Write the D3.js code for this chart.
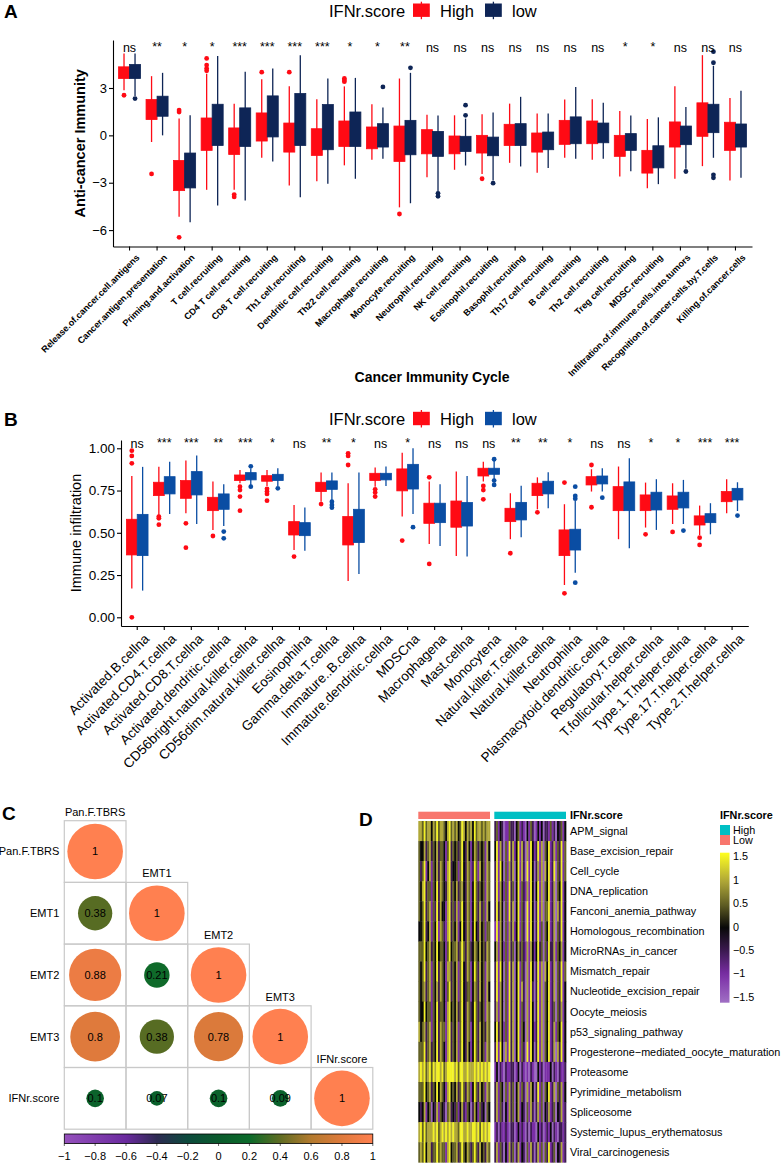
<!DOCTYPE html>
<html>
<head>
<meta charset="utf-8">
<script src="https://cdn.jsdelivr.net/npm/d3@7"></script>
<style>
  body { margin: 0; background: white; }
  svg { display: block; font-family: "Liberation Sans", Arial, sans-serif; }
</style>
</head>
<body>
<svg id="chart"></svg>
<script>
// ---------- Panel A: cancer immunity cycle ----------
const cycleSteps = [
    "Release.of.cancer.cell.antigens", "Cancer.antigen.presentation", "Priming.and.activation",
    "T cell.recruiting", "CD4 T cell.recruiting", "CD8 T cell.recruiting", "Th1 cell.recruiting",
    "Dendritic cell.recruiting", "Th22 cell.recruiting", "Macrophage.recruiting", "Monocyte.recruiting",
    "Neutrophil.recruiting", "NK cell.recruiting", "Eosinophil.recruiting", "Basophil.recruiting",
    "Th17 cell.recruiting", "B cell.recruiting", "Th2 cell.recruiting", "Treg cell.recruiting",
    "MDSC.recruiting", "Infiltration.of.immune.cells.into.tumors", "Recognition.of.cancer.cells.by.T.cells",
    "Killing.of.cancer.cells"
];
const cycleSig = ["ns", "**", "*", "*", "***", "***", "***", "***", "*", "*", "**", "ns", "ns", "ns", "ns",
    "ns", "ns", "ns", "*", "*", "ns", "ns", "ns"];
// [lower whisker, q1, q3, upper whisker]
const cycleHigh = [
    [2.86, 3.6, 4.34, 5.19], [-0.42, 1.0, 2.27, 3.75], [-5.15, -3.5, -1.59, 1.06], [-3.45, -0.95, 1.1, 3.9],
    [-3.45, -1.21, 0.47, 2.0], [-1.42, -0.36, 1.42, 3.56], [-3.18, -1.06, 0.78, 3.11], [-2.9, -1.27, 0.42, 2.29],
    [-1.9, -0.7, 0.91, 3.1], [-1.55, -0.85, 0.53, 1.97], [-4.56, -1.65, 0.59, 3.6], [-2.65, -1.17, 0.36, 1.31],
    [-2.18, -1.17, -0.04, 1.27], [-2.44, -1.12, 0, 1.33], [-1.74, -0.64, 0.7, 2.01], [-2.37, -1.06, 0.15, 1.38],
    [-1.42, -0.57, 0.95, 2.27], [-1.55, -0.53, 0.91, 2.29], [-2.6, -1.33, 0, 1.55], [-3.35, -2.39, -0.95, 1.04],
    [-2.75, -0.74, 0.85, 3.11], [-1.95, -0.06, 2.06, 5.08], [-2.86, -0.95, 0.83, 2.37]
];
const cycleLow = [
    [2.5, 3.6, 4.49, 5.19], [0, 1.21, 2.48, 3.96], [-5.5, -3.33, -1.12, 1.27], [-4.45, -0.64, 1.97, 5.02],
    [-4.13, -0.7, 1.74, 4.03], [-1.65, -0.1, 2.5, 4.24], [-3.92, -0.64, 2.65, 5.08], [-3.07, -0.91, 1.95, 3.6],
    [-2.75, -0.7, 1.48, 3.64], [-1.48, -0.74, 0.74, 1.76], [-4.3, -1.23, 0.95, 3.96], [-3.55, -1.33, 0.25, 1.25],
    [-1.91, -1.02, -0.06, 1.06], [-2.86, -1.29, -0.11, 1.44], [-1.97, -0.64, 0.74, 2.44], [-2.06, -0.91, 0.21, 1.38],
    [-1.48, -0.53, 1.17, 3.07], [-1.48, -0.47, 0.78, 2.06], [-2.27, -0.95, 0.11, 1.25], [-3.09, -2.06, -0.66, 1.14],
    [-2.12, -0.59, 0.59, 1.8], [-1.42, 0.17, 1.97, 4.4], [-2.69, -0.74, 0.72, 2.82]
];
const cycleHighOut = [[2.54], [-2.44], [1.48, 1.6, -6.46], [4.09, 4.24, 4.45, 4.87], [-3.75, -3.9], [4.0], [4.0], [],
    [3.4, 3.5, 3.6], [], [-4.98], [], [], [-2.75], [], [], [], [], [], [], [], [], []];
const cycleLowOut = [[2.33], [], [], [], [], [], [], [], [], [3.07], [4.28], [-3.67, -3.86], [1.27, 1.91], [-3.03],
    [], [], [], [], [], [], [-2.29], [4.6, 5.3, -2.5, -2.69], []];
const cycleTicks = [-6, -3, 0, 3];

// ---------- Panel B: immune infiltration ----------
const cellTypes = [
    "Activated.B.cellna", "Activated.CD4.T.cellna", "Activated.CD8.T.cellna", "Activated.dendritic.cellna",
    "CD56bright.natural.killer.cellna", "CD56dim.natural.killer.cellna", "Eosinophilna", "Gamma.delta.T.cellna",
    "Immature..B.cellna", "Immature.dendritic.cellna", "MDSCna", "Macrophagena", "Mast.cellna", "Monocytena",
    "Natural.killer.T.cellna", "Natural.killer.cellna", "Neutrophilna", "Plasmacytoid.dendritic.cellna",
    "Regulatory.T.cellna", "T.follicular.helper.cellna", "Type.1.T.helper.cellna", "Type.17.T.helper.cellna",
    "Type.2.T.helper.cellna"
];
const cellSig = ["ns", "***", "***", "**", "***", "*", "ns", "**", "*", "ns", "*", "ns", "ns", "ns", "**", "**",
    "*", "ns", "ns", "*", "*", "***", "***"];
const cellHigh = [
    [0.17, 0.369, 0.58, 0.836], [0.605, 0.72, 0.799, 0.89], [0.615, 0.704, 0.809, 0.927], [0.517, 0.631, 0.71, 0.803],
    [0.793, 0.809, 0.842, 0.872], [0.777, 0.805, 0.838, 0.872], [0.398, 0.487, 0.566, 0.665], [0.684, 0.744, 0.799, 0.856],
    [0.215, 0.428, 0.596, 0.793], [0.773, 0.809, 0.852, 0.886], [0.596, 0.748, 0.878, 0.974], [0.434, 0.556, 0.675, 0.803],
    [0.363, 0.533, 0.688, 0.862], [0.803, 0.836, 0.882, 0.921], [0.462, 0.566, 0.645, 0.734], [0.639, 0.72, 0.793, 0.828],
    [0.191, 0.365, 0.517, 0.669], [0.744, 0.783, 0.832, 0.876], [0.462, 0.631, 0.773, 0.892], [0.531, 0.631, 0.724, 0.797],
    [0.552, 0.639, 0.718, 0.793], [0.487, 0.546, 0.6, 0.661], [0.615, 0.684, 0.744, 0.817]
];
const cellLow = [
    [0.158, 0.365, 0.609, 0.89], [0.611, 0.73, 0.832, 0.92], [0.552, 0.724, 0.862, 0.957], [0.54, 0.639, 0.73, 0.787],
    [0.783, 0.813, 0.856, 0.88], [0.777, 0.809, 0.846, 0.882], [0.394, 0.483, 0.56, 0.649], [0.694, 0.757, 0.807, 0.856],
    [0.256, 0.442, 0.639, 0.856], [0.777, 0.813, 0.852, 0.892], [0.611, 0.759, 0.905, 1.0], [0.422, 0.56, 0.675, 0.787],
    [0.359, 0.54, 0.679, 0.836], [0.813, 0.846, 0.882, 0.925], [0.473, 0.576, 0.68, 0.779], [0.645, 0.73, 0.805, 0.858],
    [0.264, 0.398, 0.521, 0.69], [0.744, 0.789, 0.836, 0.882], [0.408, 0.631, 0.801, 0.941], [0.517, 0.635, 0.74, 0.817],
    [0.552, 0.647, 0.74, 0.813], [0.491, 0.56, 0.613, 0.675], [0.629, 0.694, 0.763, 0.799]
];
const cellHighOut = [[0.986, 0.955, 0.911, 0], [0.596, 0.586, 0.548], [0.556, 0.412], [0.481],
    [0.773, 0.753, 0.714, 0.631], [0.76, 0.745, 0.73, 0.69], [0.359], [0.67], [0.97, 0.955, 0.901],
    [0.757, 0.738, 0.714], [0.454], [0.828, 0.316], [], [0.777, 0.753, 0.698], [0.379], [0.621], [0.797, 0.142],
    [0.901, 0.651], [], [0.491], [0.505], [0.471, 0.428], []];
const cellLowOut = [[], [], [], [0.507, 0.467], [0.893, 0.773], [0.763], [], [0.684, 0.665, 0.649], [], [], [0.533],
    [], [], [0.935, 0.809, 0.783], [], [], [0.773, 0.718, 0.702, 0.205], [0.708], [], [], [0.513], [], [0.602]];
const cellTicks = [0, 0.25, 0.5, 0.75, 1];

// ---------- Panel C: correlation matrix (lower triangle) ----------
const corrNames = ["Pan.F.TBRS", "EMT1", "EMT2", "EMT3", "IFNr.score"];
const corrRows = [
    [1],
    [0.38, 1],
    [0.88, 0.21, 1],
    [0.8, 0.38, 0.78, 1],
    [0.1, 0.07, 0.1, 0.09, 1]
];
const corrTicks = [-1, -0.8, -0.6, -0.4, -0.2, 0, 0.2, 0.4, 0.6, 0.8, 1];

// ---------- Panel D: heatmap (digit 0..6 = -1.5..1.5 in steps of 0.5) ----------
const pathways = [
    "APM_signal", "Base_excision_repair", "Cell_cycle", "DNA_replication", "Fanconi_anemia_pathway",
    "Homologous_recombination", "MicroRNAs_in_cancer", "Mismatch_repair", "Nucleotide_excision_repair",
    "Oocyte_meiosis", "p53_signaling_pathway", "Progesterone\u2212mediated_oocyte_maturation", "Proteasome",
    "Pyrimidine_metabolism", "Spliceosome", "Systemic_lupus_erythematosus", "Viral_carcinogenesis"
];
const heatLowGroup = [
    "5546455354645543564545346535453645545455",
    "4335245243524431462434246325313542434153",
    "4246135143525431562334146325412641534154",
    "4356244143625432562435245325413642434154",
    "4346245142625331562425146325413642524153",
    "3346235143615421562435136325413632534144",
    "4446345243634431463445246425423543534254",
    "4346245143625431552435146325413642534154",
    "4345245143525431462435146324413542534153",
    "4336344143624431563435246325423642434154",
    "5345245143625441562435146325413642534254",
    "4446245243625431562435146325313642534154",
    "5656456465665645666656466556555656565656",
    "4446345243635431563435246425413642534154",
    "3235134032514320452324135214302531423043",
    "5646455565645656565655466556556656465656",
    "4546355244645441563445246435424642534254"
];
const heatHighGroup = [
    "2413201142203412103142013130221412032413",
    "3615204162513615205163126150436125142614",
    "2616304152503615206163025150536126042614",
    "2615314162403614215163036150436125043613",
    "2625304162503614206163026150446125052613",
    "1615304152513614206163026140436125042613",
    "3515314152403524215153136240426225143513",
    "2616304162503614205163026150536125042614",
    "2615304162503615205162026150436125042613",
    "2515304162503614205163026150436124042513",
    "3625314162503614305163126150436125143613",
    "2616305162503614206163026150436125052613",
    "1302102112201302101021003120111302102112",
    "2514304152403514205153026140436125042513",
    "2514203152403513204152025140325124032512",
    "1202112102201312102021103120121302102212",
    "2514203152402513204152025140426124032512"
];
const heatTicks = [1.5, 1, 0.5, 0, -0.5, -1, -1.5];

const svg = d3.select('#chart').attr('width', 782).attr('height', 1164);

// Boxplot panel shared by A and B
function createBoxPanel(cfg) {
    const x = d3.scaleBand()
                .domain(cfg.cats)
                .range([cfg.left, cfg.right])
                .paddingInner(0)
                .paddingOuter(0.1);
    const y = d3.scaleLinear()
                .domain(cfg.domain)
                .range([cfg.bottom, cfg.top]);
    const boxW = x.step() * 0.4;
    const g = svg.append('g');

    const series = [
        { stats: cfg.high, out: cfg.highOut, color: cfg.colors[0], shift: -boxW / 2 },
        { stats: cfg.low, out: cfg.lowOut, color: cfg.colors[1], shift: boxW / 2 }
    ];

    series.forEach(s => {
        const cx = i => x(cfg.cats[i]) + x.bandwidth() / 2 + s.shift;

        g.append('g').selectAll('line')
         .data(s.stats)
         .enter()
         .append('line')
         .attr('x1', (d, i) => cx(i))
         .attr('x2', (d, i) => cx(i))
         .attr('y1', d => y(d[0]))
         .attr('y2', d => y(d[3]))
         .attr('stroke', s.color)
         .attr('stroke-width', 1.3);

        g.append('g').selectAll('rect')
         .data(s.stats)
         .enter()
         .append('rect')
         .attr('x', (d, i) => cx(i) - boxW / 2)
         .attr('y', d => y(d[2]))
         .attr('width', boxW)
         .attr('height', d => y(d[1]) - y(d[2]))
         .attr('fill', s.color)
         .attr('stroke', s.color)
         .attr('stroke-width', 0.8);

        const pts = [];
        s.out.forEach((vals, i) => vals.forEach(v => pts.push({ i: i, v: v })));
        g.append('g').selectAll('circle')
         .data(pts)
         .enter()
         .append('circle')
         .attr('cx', d => cx(d.i))
         .attr('cy', d => y(d.v))
         .attr('r', 2.4)
         .attr('fill', s.color);
    });

    // significance labels
    g.append('g').selectAll('text')
     .data(cfg.sig)
     .enter()
     .append('text')
     .attr('x', (d, i) => x(cfg.cats[i]) + x.bandwidth() / 2)
     .attr('y', d => d === 'ns' ? cfg.sigY : cfg.sigY - 1)
     .attr('text-anchor', 'middle')
     .style('font-size', '12.5px')
     .text(d => d);

    // Y axis
    const yAxis = g.append('g')
                   .attr('transform', `translate(${cfg.left},0)`)
                   .call(d3.axisLeft(y).tickValues(cfg.ticks).tickSize(4).tickSizeOuter(0).tickFormat(cfg.tickFormat));
    yAxis.selectAll('text').style('font-size', cfg.tickFont).style('fill', 'black').attr('x', -6);
    yAxis.selectAll('line, path').attr('stroke', 'black').attr('stroke-width', 1.1);

    // X axis
    const xAxis = g.append('g')
                   .attr('transform', `translate(0,${cfg.bottom})`)
                   .call(d3.axisBottom(x).tickSize(4).tickSizeOuter(0).tickFormat(''));
    xAxis.selectAll('line, path').attr('stroke', 'black').attr('stroke-width', 1.1);

    g.append('g').selectAll('text')
     .data(cfg.cats)
     .enter()
     .append('text')
     .attr('transform', d => `translate(${x(d) + x.bandwidth() / 2 + cfg.labelDx},${cfg.bottom + cfg.labelDy}) rotate(-45)`)
     .attr('text-anchor', 'end')
     .attr('dy', '0.71em')
     .style('font-size', cfg.labelFont)
     .style('font-weight', cfg.labelWeight)
     .text(d => d);

    // Y axis title
    g.append('text')
     .attr('transform', `translate(${cfg.yTitleX},${(cfg.top + cfg.bottom) / 2}) rotate(-90)`)
     .attr('text-anchor', 'middle')
     .style('font-size', '14.5px')
     .style('font-weight', cfg.yTitleWeight)
     .text(cfg.yTitle);

    // legend
    const lg = g.append('g').attr('transform', `translate(0,${cfg.legendY})`);
    lg.append('text').attr('x', 329).attr('y', 0).style('font-size', '16.5px').text('IFNr.score');
    [['High', 413], ['low', 485]].forEach(([name, kx], k) => {
        lg.append('line')
          .attr('x1', kx + 8.4).attr('x2', kx + 8.4)
          .attr('y1', -15).attr('y2', 2.5)
          .attr('stroke', cfg.colors[k]).attr('stroke-width', 1.3);
        lg.append('rect')
          .attr('x', kx).attr('y', -13.2)
          .attr('width', 16.8).attr('height', 13.4)
          .attr('fill', cfg.colors[k]);
        lg.append('text').attr('x', kx + 27).attr('y', 0).style('font-size', '16.5px').text(name);
    });
}

// Corrplot panel C
function createCorrPanel() {
    const cell = 61.7;
    const x0 = 64.3, y0 = 820.7;
    const color = d3.scaleLinear()
                    .domain([-1, -0.6, -0.4, -0.2, 0, 0.2, 0.4, 0.6, 0.8, 1])
                    .range(['#9550BC', '#6A2A9E', '#2D2A52', '#0C4A3C', '#0A5A2C', '#0B6A2A', '#5F6C22', '#B37A2E', '#DF7A3C', '#FF8050']);
    const g = svg.append('g');
    const cells = [];
    corrRows.forEach((row, i) => row.forEach((v, j) => cells.push({ i: i, j: j, v: v })));

    g.selectAll('rect.cell')
     .data(cells)
     .enter()
     .append('rect')
     .attr('class', 'cell')
     .attr('x', d => x0 + d.j * cell)
     .attr('y', d => y0 + d.i * cell)
     .attr('width', cell)
     .attr('height', cell)
     .attr('fill', 'none')
     .attr('stroke', '#c9c9c9')
     .attr('stroke-width', 1.2);

    g.selectAll('circle')
     .data(cells)
     .enter()
     .append('circle')
     .attr('cx', d => x0 + (d.j + 0.5) * cell)
     .attr('cy', d => y0 + (d.i + 0.5) * cell)
     .attr('r', d => 27.8 * Math.sqrt(Math.abs(d.v)))
     .attr('fill', d => color(d.v));

    g.selectAll('text.num')
     .data(cells)
     .enter()
     .append('text')
     .attr('class', 'num')
     .attr('x', d => x0 + (d.j + 0.5) * cell)
     .attr('y', d => y0 + (d.i + 0.5) * cell)
     .attr('dy', '0.35em')
     .attr('text-anchor', 'middle')
     .style('font-size', '11px')
     .text(d => d.v);

    // row and column names
    g.selectAll('text.row')
     .data(corrNames)
     .enter()
     .append('text')
     .attr('x', x0 - 5)
     .attr('y', (d, i) => y0 + (i + 0.5) * cell)
     .attr('dy', '0.35em')
     .attr('text-anchor', 'end')
     .style('font-size', '11px')
     .text(d => d);

    g.selectAll('text.col')
     .data(corrNames)
     .enter()
     .append('text')
     .attr('x', (d, i) => x0 + (i + 0.5) * cell)
     .attr('y', (d, i) => y0 + i * cell - 5)
     .attr('text-anchor', 'middle')
     .style('font-size', '11px')
     .text(d => d);

    // colour bar
    const barX = d3.scaleLinear().domain([-1, 1]).range([x0, x0 + 5 * cell]);
    const grad = svg.append('defs').append('linearGradient').attr('id', 'corrGrad');
    d3.range(0, 1.0001, 0.05).forEach(t => {
        grad.append('stop').attr('offset', t).attr('stop-color', color(-1 + 2 * t));
    });
    g.append('rect')
     .attr('x', x0).attr('y', 1134)
     .attr('width', 5 * cell).attr('height', 9.5)
     .attr('fill', 'url(#corrGrad)')
     .attr('stroke', 'black').attr('stroke-width', 0.8);
    g.append('g').selectAll('line')
     .data(corrTicks)
     .enter()
     .append('line')
     .attr('x1', d => barX(d)).attr('x2', d => barX(d))
     .attr('y1', 1143.5).attr('y2', 1146)
     .attr('stroke', 'black').attr('stroke-width', 0.6);
    g.append('g').selectAll('text')
     .data(corrTicks)
     .enter()
     .append('text')
     .attr('x', d => barX(d))
     .attr('y', 1160)
     .attr('text-anchor', 'middle')
     .style('font-size', '11px')
     .text(d => String(d).replace('-', '\u2212'));
}

// Heatmap panel D
function createHeatmap() {
    const color = d3.scaleLinear()
                    .domain([-1.6, -1, -0.5, 0, 0.5, 1, 1.6])
                    .range(['#A070C4', '#7A2EA6', '#3D1A52', '#080808', '#626024', '#B0A838', '#FFFF20']);
    const y = d3.scaleBand().domain(pathways).range([821, 1162.3]);
    const blocks = [
        { rows: heatLowGroup, x: d3.scaleBand().domain(d3.range(40)).range([418.3, 490]), anno: '#F8766D' },
        { rows: heatHighGroup, x: d3.scaleBand().domain(d3.range(40)).range([494.3, 566]), anno: '#00BFC4' }
    ];
    const g = svg.append('g');

    blocks.forEach(b => {
        const cells = [];
        b.rows.forEach((str, r) => str.split('').forEach((ch, c) => {
            cells.push({ r: r, c: c, v: (+ch - 3) * 0.5 });
        }));
        g.append('g').selectAll('rect')
         .data(cells)
         .enter()
         .append('rect')
         .attr('x', d => b.x(d.c))
         .attr('y', d => y(pathways[d.r]))
         .attr('width', b.x.bandwidth() + 0.35)
         .attr('height', y.bandwidth() + 0.35)
         .attr('fill', d => color(d.v));
        g.append('rect')
         .attr('x', b.x.range()[0]).attr('y', 811.7)
         .attr('width', b.x.range()[1] - b.x.range()[0]).attr('height', 7.3)
         .attr('fill', b.anno);
    });

    g.append('text')
     .attr('x', 570).attr('y', 818.5)
     .style('font-size', '10.8px').style('font-weight', 'bold')
     .text('IFNr.score');

    g.append('g').selectAll('text')
     .data(pathways)
     .enter()
     .append('text')
     .attr('x', 570)
     .attr('y', d => y(d) + y.bandwidth() / 2)
     .attr('dy', '0.35em')
     .style('font-size', '10.8px')
     .text(d => d);

    // legend
    g.append('text')
     .attr('x', 720).attr('y', 818.5)
     .style('font-size', '10.8px').style('font-weight', 'bold')
     .text('IFNr.score');
    [['High', '#00BFC4'], ['Low', '#F8766D']].forEach(([name, col], k) => {
        g.append('rect').attr('x', 720).attr('y', 825 + k * 10).attr('width', 10).attr('height', 10).attr('fill', col);
        g.append('text').attr('x', 733).attr('y', 833.5 + k * 10).style('font-size', '10.8px').text(name);
    });

    const barY = d3.scaleLinear().domain([1.5, -1.5]).range([856.7, 997]);
    const grad = svg.append('defs').append('linearGradient')
                    .attr('id', 'heatGrad').attr('x1', 0).attr('x2', 0).attr('y1', 0).attr('y2', 1);
    d3.range(0, 1.0001, 0.05).forEach(t => {
        grad.append('stop').attr('offset', t).attr('stop-color', color(1.6 - 3.2 * t));
    });
    g.append('rect')
     .attr('x', 720).attr('y', 852.7)
     .attr('width', 9.5).attr('height', 150)
     .attr('fill', 'url(#heatGrad)');
    g.append('g').selectAll('text')
     .data(heatTicks)
     .enter()
     .append('text')
     .attr('x', 733)
     .attr('y', d => barY(d))
     .attr('dy', '0.35em')
     .style('font-size', '10.8px')
     .text(d => String(d).replace('-', '\u2212'));
}

function panelLetter(letter, x, y) {
    svg.append('text')
       .attr('x', x).attr('y', y)
       .style('font-size', '19px').style('font-weight', 'bold')
       .text(letter);
}

createBoxPanel({
    cats: cycleSteps, sig: cycleSig, high: cycleHigh, low: cycleLow, highOut: cycleHighOut, lowOut: cycleLowOut,
    left: 113, right: 752, top: 40, bottom: 246.5, domain: [-7.04, 6.04],
    ticks: cycleTicks, tickFormat: d3.format('d'), tickFont: '13px',
    colors: ['#FF0A14', '#0E2556'],
    sigY: 51.5, labelDx: 6, labelDy: 7, labelFont: '9.1px', labelWeight: 'bold',
    yTitle: 'Anti-cancer Immunity', yTitleX: 85, yTitleWeight: 'bold', legendY: 16.7
});
svg.append('text')
   .attr('x', 432).attr('y', 382)
   .attr('text-anchor', 'middle')
   .style('font-size', '14px').style('font-weight', 'bold')
   .text('Cancer Immunity Cycle');

createBoxPanel({
    cats: cellTypes, sig: cellSig, high: cellHigh, low: cellLow, highOut: cellHighOut, lowOut: cellLowOut,
    left: 121, right: 748.3, top: 440, bottom: 626, domain: [-0.0515, 1.049],
    ticks: cellTicks, tickFormat: d3.format('.2f'), tickFont: '13.5px',
    colors: ['#FF0A14', '#0A4DA3'],
    sigY: 448, labelDx: 6, labelDy: 7, labelFont: '13.5px', labelWeight: 'normal',
    yTitle: 'Immune infiltration', yTitleX: 81, yTitleWeight: 'normal', legendY: 425
});

createCorrPanel();
createHeatmap();

panelLetter('A', 4, 18);
panelLetter('B', 4, 426);
panelLetter('C', 2, 820);
panelLetter('D', 359, 826);
</script>
</body>
</html>
